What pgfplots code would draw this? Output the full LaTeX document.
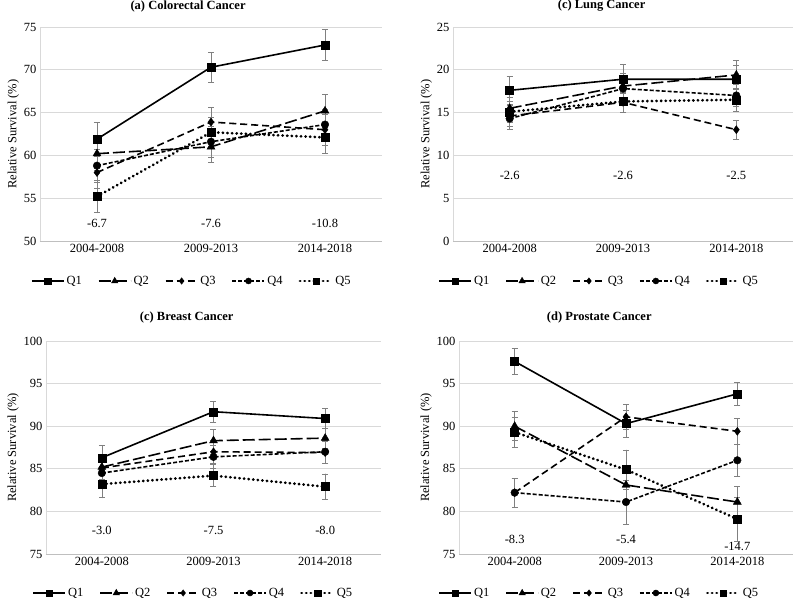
\documentclass[border=0pt]{standalone}
\usepackage{fontspec}
\setmainfont{Liberation Serif}
\usepackage{pgfplots}
\pgfplotsset{compat=1.18}

\definecolor{gridgray}{RGB}{217,217,217}
\definecolor{axisgray}{RGB}{191,191,191}
\definecolor{errgray}{RGB}{128,128,128}

\newcommand{\fs}{\fontsize{12.5}{14}\selectfont}

\pgfplotsset{
  panel/.style={
    scale only axis, anchor=south west,
    xmin=-0.5, xmax=2.5,
    xtick={0,1,2}, xticklabels={2004-2008,2009-2013,2014-2018},
    axis lines=left, axis line style={-},
    x axis line style={draw=axisgray, line width=0.8pt},
    y axis line style={draw=gridgray, line width=0.6pt},
    ymajorgrids, grid style={draw=gridgray, line width=0.8pt},
    major tick length=0pt,
    tick label style={font=\fs},
    /pgf/number format/assume math mode=true,
    ylabel={Relative Survival (\%)}, ylabel style={font=\fs, yshift=-2pt},
    title style={font=\bfseries\fs, anchor=center, yshift=15pt},
    legend columns=5,
    legend style={draw=none, fill=none, font=\fs, anchor=center,
      /tikz/every even column/.append style={column sep=14pt}},
    legend image code/.code={\draw[mark repeat=2, mark phase=2, every mark/.append style={scale=0.8}]
      plot coordinates {(0pt,0pt) (16pt,0pt) (32pt,0pt)};},
    error bars/y dir=both, error bars/y explicit,
    error bars/error bar style={draw=errgray, line width=0.6pt, solid},
    error bars/error mark options={rotate=90, mark size=3pt, draw=errgray, line width=0.6pt, solid},
  },
  q1/.style={black, solid, line width=1.6pt, mark=square*, mark size=4pt,
    mark options={solid, line width=0.4pt}},
  q2/.style={black, dash pattern=on 12pt off 4pt, line width=1.6pt, mark=triangle*, mark size=4.6pt,
    mark options={solid, line width=0.4pt}},
  q3/.style={black, dash pattern=on 7pt off 4pt, line width=1.6pt, mark=diamond*, mark size=4pt,
    mark options={solid, line width=0.4pt}},
  q4/.style={black, dash pattern=on 4pt off 2pt, line width=1.6pt, mark=*, mark size=3.8pt,
    mark options={solid, line width=0.4pt}},
  q5/.style={black, dash pattern=on 0.3pt off 4.3pt, line cap=round, line width=2.8pt, mark=square*, mark size=4pt,
    mark options={solid, line width=0.4pt, line cap=butt}},
}

\begin{document}
\begin{tikzpicture}
\path[use as bounding box] (0pt,0pt) rectangle (796pt,602pt);

% (a) Colorectal
\begin{axis}[panel, at={(40pt,361pt)}, width=342pt, height=214pt,
  ymin=50, ymax=75, ytick={50,55,...,75},
  title={(a) Colorectal Cancer}, title style={at={(0.433,1)}},
  legend style={at={(0.444,0)}, yshift=-40pt}]
\addplot[q1] coordinates {(0,61.9) +- (0,2.0) (1,70.3) +- (0,1.8) (2,72.9) +- (0,1.8)};
\addlegendentry{Q1}
\addplot[q2] coordinates {(0,60.2) +- (0,1.9) (1,61.0) +- (0,1.8) (2,65.2) +- (0,1.9)};
\addlegendentry{Q2}
\addplot[q3] coordinates {(0,58.0) +- (0,1.9) (1,63.9) +- (0,1.7) (2,63.0) +- (0,1.8)};
\addlegendentry{Q3}
\addplot[q4] coordinates {(0,58.8) +- (0,1.9) (1,61.6) +- (0,1.8) (2,63.6) +- (0,1.8)};
\addlegendentry{Q4}
\addplot[q5] coordinates {(0,55.2) +- (0,1.9) (1,62.7) +- (0,1.8) (2,62.1) +- (0,1.8)};
\addlegendentry{Q5}
\node[font=\fs] at (axis cs:0,52) {-6.7};
\node[font=\fs] at (axis cs:1,52) {-7.6};
\node[font=\fs] at (axis cs:2,52) {-10.8};
\end{axis}

% (c) Lung
\begin{axis}[panel, at={(453pt,361pt)}, width=340pt, height=214pt,
  ymin=0, ymax=25, ytick={0,5,...,25},
  title={(c) Lung Cancer}, title style={at={(0.437,1)}},
  legend style={at={(0.43,0)}, yshift=-40pt}]
\addplot[q1] coordinates {(0,17.6) +- (0,1.6) (1,18.9) +- (0,1.7) (2,18.9) +- (0,1.6)};
\addlegendentry{Q1}
\addplot[q2] coordinates {(0,15.5) +- (0,1.3) (1,18.1) +- (0,1.5) (2,19.4) +- (0,1.7)};
\addlegendentry{Q2}
\addplot[q3] coordinates {(0,14.6) +- (0,1.2) (1,16.2) +- (0,1.2) (2,13.0) +- (0,1.1)};
\addlegendentry{Q3}
\addplot[q4] coordinates {(0,14.3) +- (0,1.2) (1,17.8) +- (0,1.3) (2,17.0) +- (0,1.3)};
\addlegendentry{Q4}
\addplot[q5] coordinates {(0,15.1) +- (0,1.2) (1,16.3) +- (0,1.3) (2,16.5) +- (0,1.3)};
\addlegendentry{Q5}
\node[font=\fs] at (axis cs:0,7.6) {-2.6};
\node[font=\fs] at (axis cs:1,7.6) {-2.6};
\node[font=\fs] at (axis cs:2,7.6) {-2.5};
\end{axis}

% (c) Breast
\begin{axis}[panel, at={(46pt,48pt)}, width=335pt, height=213pt,
  ymin=75, ymax=100, ytick={75,80,...,100},
  title={(c) Breast Cancer}, title style={at={(0.42,1)}, yshift=3pt},
  legend style={at={(0.44,0)}, yshift=-39pt}]
\addplot[q1] coordinates {(0,86.3) +- (0,1.4) (1,91.7) +- (0,1.2) (2,90.9) +- (0,1.2)};
\addlegendentry{Q1}
\addplot[q2] coordinates {(0,85.2) +- (0,1.4) (1,88.3) +- (0,1.3) (2,88.6) +- (0,1.2)};
\addlegendentry{Q2}
\addplot[q3] coordinates {(0,85.1) +- (0,1.4) (1,87.0) +- (0,1.3) (2,86.9) +- (0,1.3)};
\addlegendentry{Q3}
\addplot[q4] coordinates {(0,84.5) +- (0,1.4) (1,86.4) +- (0,1.3) (2,87.0) +- (0,1.3)};
\addlegendentry{Q4}
\addplot[q5] coordinates {(0,83.2) +- (0,1.6) (1,84.2) +- (0,1.3) (2,82.9) +- (0,1.5)};
\addlegendentry{Q5}
\node[font=\fs] at (axis cs:0,77.8) {-3.0};
\node[font=\fs] at (axis cs:1,77.8) {-7.5};
\node[font=\fs] at (axis cs:2,77.8) {-8.0};
\end{axis}

% (d) Prostate
\begin{axis}[panel, at={(459pt,48pt)}, width=334pt, height=213pt,
  ymin=75, ymax=100, ytick={75,80,...,100},
  title={(d) Prostate Cancer}, title style={at={(0.42,1)}, yshift=3pt},
  legend style={at={(0.42,0)}, yshift=-39pt}]
\addplot[q1] coordinates {(0,97.6) +- (0,1.5) (1,90.3) +- (0,1.6) (2,93.8) +- (0,1.4)};
\addlegendentry{Q1}
\addplot[q2] coordinates {(0,90.0) +- (0,1.7) (1,83.1) +- (0,1.8) (2,81.1) +- (0,1.8)};
\addlegendentry{Q2}
\addplot[q3] coordinates {(0,82.2) +- (0,1.7) (1,91.1) +- (0,1.5) (2,89.4) +- (0,1.5)};
\addlegendentry{Q3}
\addplot[q4] coordinates {(0,82.2) +- (0,1.7) (1,81.1) +- (0,2.6) (2,86.0) +- (0,1.9)};
\addlegendentry{Q4}
\addplot[q5] coordinates {(0,89.3) +- (0,1.8) (1,84.9) +- (0,2.3) (2,79.1) +- (0,2.6)};
\addlegendentry{Q5}
\node[font=\fs] at (axis cs:0,76.7) {-8.3};
\node[font=\fs] at (axis cs:1,76.7) {-5.4};
\node[font=\fs] at (axis cs:2,75.9) {-14.7};
\end{axis}
\end{tikzpicture}
\end{document}
